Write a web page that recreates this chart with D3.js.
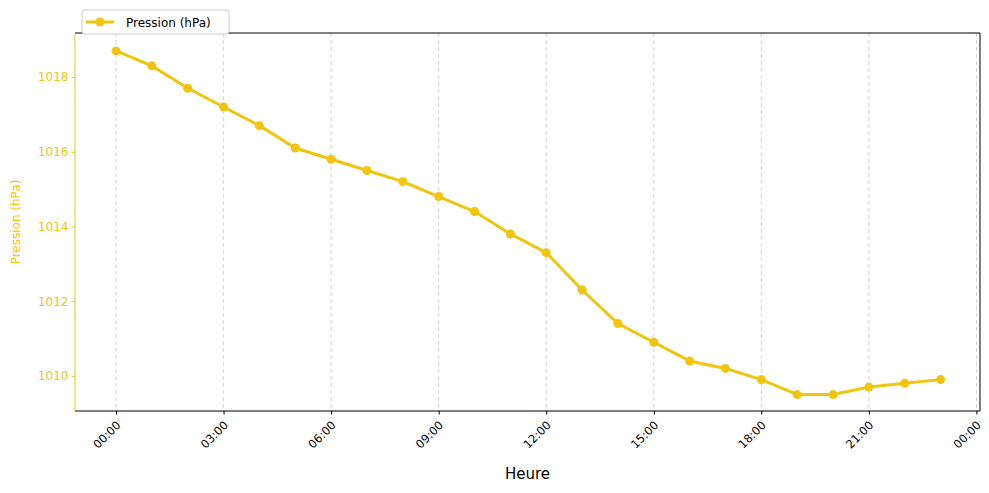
<!DOCTYPE html>
<html><head><meta charset="utf-8">
<script src="https://cdn.jsdelivr.net/npm/d3@7"></script>
<style>body{margin:0;background:#fff}text{font-family:"DejaVu Sans",sans-serif}</style>
</head><body><svg id="c" width="989" height="493"></svg>
<script>
const hours = d3.range(0,24);
const pressure = [1018.7,1018.3,1017.7,1017.2,1016.7,1016.1,1015.8,1015.5,1015.2,1014.8,1014.4,1013.8,1013.3,1012.3,1011.4,1010.9,1010.4,1010.2,1009.9,1009.5,1009.5,1009.7,1009.8,1009.9];
const xTicks = [0,3,6,9,12,15,18,21,24];
const xTickLabels = ["00:00","03:00","06:00","09:00","12:00","15:00","18:00","21:00","00:00"];
const yTicks = [1010,1012,1014,1016,1018];
const color = "#f1c40f";
const svg = d3.select("#c");
const L=75,R=980,T=33,B=411;
const x = d3.scaleLinear().domain([-1.145,24.1]).range([L,R]);
const y = d3.scaleLinear().domain([1009.06,1019.18]).range([B,T]);
svg.append("g").selectAll("line").data(xTicks).join("line")
 .attr("x1",d=>x(d)).attr("x2",d=>x(d)).attr("y1",T).attr("y2",B)
 .attr("stroke","#b0b0b0").attr("stroke-opacity",0.7).attr("stroke-dasharray","4,3").attr("stroke-width",0.8);
const xa = svg.append("g").attr("transform",`translate(0,${B})`)
 .call(d3.axisBottom(x).tickValues(xTicks).tickFormat((d,i)=>xTickLabels[i]).tickSizeOuter(0).tickSize(3.5));
xa.select(".domain").remove();
xa.selectAll("text").attr("font-size",11.5).attr("fill","#000").attr("text-anchor","end")
 .attr("x",0).attr("y",0).attr("dy","0.35em").attr("transform","translate(2,12) rotate(-45)");
const ya = svg.append("g").attr("transform",`translate(${L},0)`)
 .call(d3.axisLeft(y).tickValues(yTicks).tickFormat(d3.format("d")).tickSizeOuter(0).tickSize(3.5));
ya.select(".domain").remove();
ya.selectAll("line").attr("stroke",color);
ya.selectAll("text").attr("font-size",12).attr("fill",color);
svg.append("line").attr("x1",L).attr("x2",R).attr("y1",T).attr("y2",T).attr("stroke","#000");
svg.append("line").attr("x1",L).attr("x2",R).attr("y1",B).attr("y2",B).attr("stroke","#000");
svg.append("line").attr("x1",R).attr("x2",R).attr("y1",T).attr("y2",B).attr("stroke","#000");
svg.append("line").attr("x1",L).attr("x2",L).attr("y1",T).attr("y2",B).attr("stroke",color);
svg.append("path").datum(pressure).attr("fill","none").attr("stroke",color).attr("stroke-width",3)
 .attr("d",d3.line().x((d,i)=>x(hours[i])).y(d=>y(d)));
svg.append("g").selectAll("circle").data(pressure).join("circle")
 .attr("cx",(d,i)=>x(hours[i])).attr("cy",d=>y(d)).attr("r",4.5).attr("fill",color);
svg.append("text").attr("x",(L+R)/2).attr("y",479).attr("text-anchor","middle").attr("font-size",15).text("Heure");
svg.append("text").attr("transform",`translate(20,${(T+B)/2}) rotate(-90)`).attr("text-anchor","middle")
 .attr("font-size",12).attr("fill",color).text("Pression (hPa)");
const lg = svg.append("g");
lg.append("rect").attr("x",82).attr("y",10).attr("width",147).attr("height",24).attr("rx",3)
 .attr("fill","#fff").attr("stroke","#ccc");
lg.append("line").attr("x1",86).attr("x2",114).attr("y1",22).attr("y2",22).attr("stroke",color).attr("stroke-width",3);
lg.append("circle").attr("cx",100).attr("cy",22).attr("r",4.5).attr("fill",color);
lg.append("text").attr("x",126).attr("y",26.5).attr("font-size",12).text("Pression (hPa)");
</script></body></html>
